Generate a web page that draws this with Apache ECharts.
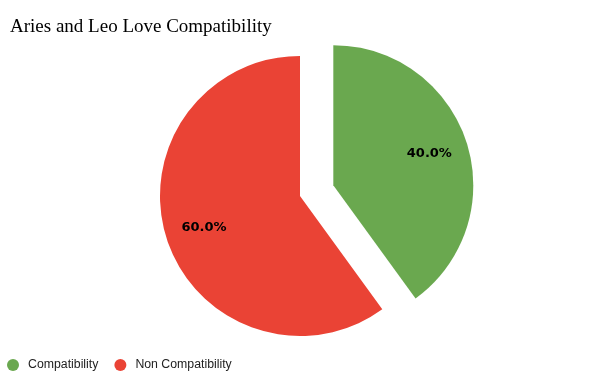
<!DOCTYPE html>
<html>
<head>
<meta charset="utf-8">
<script src="https://cdn.jsdelivr.net/npm/echarts@6/dist/echarts.min.js"></script>
<style>html,body{margin:0;padding:0;background:#fff}#c{width:600px;height:379px}</style>
</head>
<body>
<div id="c"></div>
<script>
const titleText = 'Aries and Leo Love Compatibility';
const categories = ['Compatibility', 'Non Compatibility'];
const values = [40, 60];
const colors = ['#6aa84f', '#ea4335'];
const explodedIndex = 0;

const chart = echarts.init(document.getElementById('c'), null, {renderer: 'canvas'});
const total = values.reduce((a, b) => a + b, 0);
const mkData = (transparent) => categories.map((name, i) => ({
  name: name,
  value: values[i],
  selected: i === explodedIndex,
  itemStyle: transparent ? {color: 'rgba(0,0,0,0)'} : {color: colors[i]}
}));

chart.setOption({
  animation: false,
  backgroundColor: '#ffffff',
  color: colors,
  title: {
    text: titleText,
    left: 5,
    top: 13,
    textStyle: {fontFamily: 'Liberation Serif', fontWeight: 'normal', fontSize: 19, color: '#000'}
  },
  legend: {
    left: 7,
    bottom: 8,
    padding: 0,
    icon: 'circle',
    itemWidth: 20,
    itemHeight: 12,
    itemGap: 16,
    data: categories,
    textStyle: {fontFamily: 'Liberation Sans', fontSize: 12.3, color: '#222'}
  },
  series: [
    {
      type: 'pie',
      center: [300, 196],
      radius: [0, 140],
      startAngle: 90,
      clockwise: true,
      selectedMode: 'single',
      selectedOffset: 35,
      label: {show: false},
      labelLine: {show: false},
      emphasis: {disabled: true},
      data: mkData(false)
    },
    {
      type: 'pie',
      center: [300, 196],
      radius: [0, 196],
      startAngle: 90,
      clockwise: true,
      selectedMode: 'single',
      selectedOffset: 35,
      silent: true,
      z: 3,
      label: {
        show: true,
        position: 'inside',
        fontFamily: 'DejaVu Sans',
        fontWeight: 'bold',
        fontSize: 13,
        color: '#000',
        formatter: (p) => (p.value / total * 100).toFixed(1) + '%'
      },
      labelLine: {show: false},
      emphasis: {disabled: true},
      data: mkData(true)
    }
  ]
});
</script>
</body>
</html>
